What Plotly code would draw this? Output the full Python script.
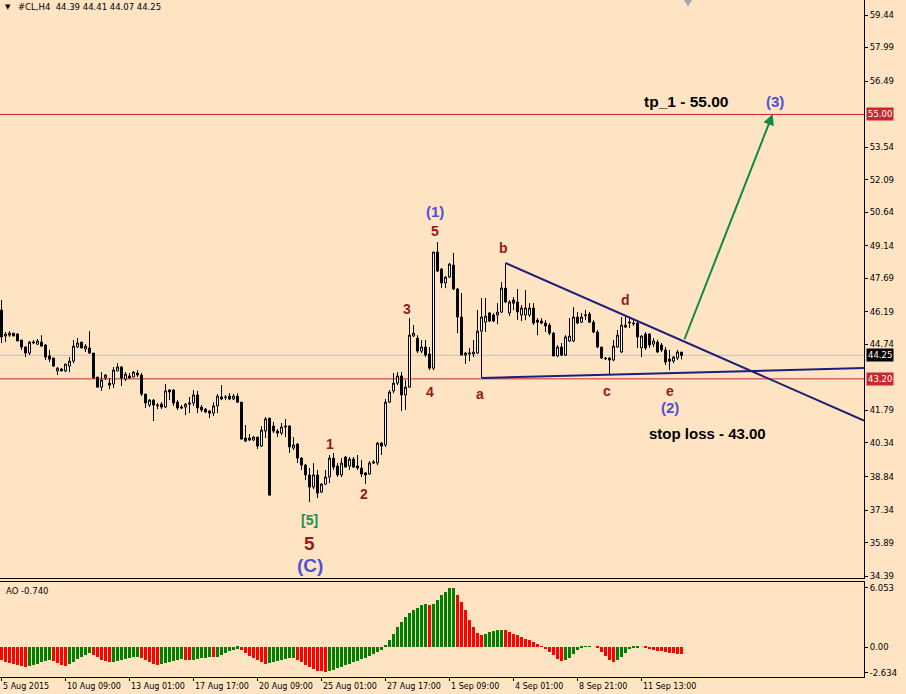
import plotly.graph_objects as go

# ---------------- data ----------------
bar_index = list(range(171))

opens = [46.27, 45.11, 45.15, 45.24, 45.20, 44.93, 44.62, 44.35, 44.80, 44.75,
         44.84, 44.71, 44.22, 44.13, 43.55, 43.64, 43.55, 43.77, 43.99, 44.62,
         44.84, 44.53, 44.58, 44.35, 43.28, 42.83, 43.24, 43.01, 42.97, 43.55,
         43.73, 43.19, 43.33, 43.28, 43.46, 43.37, 42.52, 42.03, 42.25, 41.99,
         42.07, 41.94, 42.70, 42.70, 42.16, 41.94, 41.94, 42.07, 42.12, 42.48,
         41.94, 41.85, 41.76, 41.67, 41.99, 42.39, 42.36, 42.43, 42.30, 42.43,
         42.16, 40.56, 40.56, 40.47, 40.60, 40.20, 40.87, 41.45, 41.09, 40.87,
         40.78, 41.05, 41.09, 40.11, 40.29, 39.66, 39.35, 38.91, 38.37, 38.91,
         38.15, 38.50, 38.82, 39.66, 39.31, 38.91, 39.71, 39.31, 39.62, 39.31,
         39.22, 39.00, 38.95, 39.44, 39.44, 40.33, 40.25, 42.16, 42.66, 43.01,
         43.33, 42.48, 42.83, 45.11, 45.02, 44.44, 44.62, 44.31, 43.68, 48.86,
         48.10, 47.48, 47.74, 48.28, 47.21, 45.96, 44.26, 44.31, 44.31, 44.35,
         45.33, 45.73, 46.14, 46.05, 46.05, 46.18, 47.25, 46.14, 46.72, 46.63,
         46.05, 46.05, 46.05, 46.36, 45.82, 45.78, 45.69, 45.60, 45.24, 44.22,
         44.62, 44.26, 44.89, 44.89, 45.96, 45.73, 46.02, 46.09, 45.73, 45.29,
         44.62, 44.13, 44.13, 44.04, 44.62, 44.40, 45.51, 45.69, 45.69, 45.69,
         44.58, 45.20, 45.20, 44.75, 44.84, 44.71, 44.49, 44.08, 43.99, 44.13,
         44.39]

highs = [46.72, 45.29, 45.33, 45.24, 45.24, 44.93, 44.66, 44.89, 44.93, 44.98,
         45.15, 44.75, 44.49, 44.13, 43.73, 43.68, 43.86, 44.17, 44.93, 45.02,
         44.84, 44.75, 45.33, 44.35, 43.28, 43.50, 43.41, 43.24, 43.73, 43.90,
         43.77, 43.50, 43.46, 43.55, 43.59, 43.46, 42.52, 42.30, 42.30, 42.12,
         42.16, 42.97, 42.74, 42.74, 42.25, 42.03, 42.12, 42.39, 42.70, 42.66,
         42.03, 41.90, 41.81, 42.16, 42.52, 42.92, 42.48, 42.56, 42.52, 42.56,
         42.16, 41.14, 40.74, 40.65, 40.60, 41.09, 41.50, 41.45, 41.27, 40.96,
         41.23, 41.41, 41.14, 40.60, 40.33, 39.71, 39.40, 39.22, 39.44, 39.13,
         38.55, 39.13, 39.80, 39.89, 39.44, 39.66, 39.75, 39.71, 39.71, 39.80,
         39.57, 39.04, 39.53, 39.57, 40.38, 40.38, 42.30, 42.70, 43.46, 43.50,
         43.50, 43.15, 45.91, 45.60, 45.15, 44.93, 44.93, 44.62, 48.86, 49.31,
         48.15, 47.79, 48.37, 48.82, 47.25, 47.03, 44.40, 44.58, 44.93, 46.27,
         46.81, 46.81, 46.18, 46.14, 46.58, 47.52, 48.37, 46.72, 46.85, 47.21,
         46.49, 47.16, 46.58, 46.58, 45.91, 45.91, 45.82, 45.69, 45.29, 44.71,
         44.80, 45.15, 45.91, 46.40, 46.18, 46.14, 46.27, 46.18, 45.82, 45.38,
         44.62, 44.17, 44.17, 44.93, 45.38, 45.96, 45.96, 45.91, 45.82, 45.82,
         45.15, 45.29, 45.24, 45.02, 44.93, 44.80, 44.62, 44.49, 44.22, 44.49,
         44.41]

lows = [44.80, 44.84, 45.07, 45.11, 44.89, 44.49, 44.17, 44.26, 44.75, 44.71,
        44.66, 44.04, 43.95, 43.73, 43.37, 43.55, 43.50, 43.50, 43.90, 44.58,
        44.58, 44.40, 44.31, 43.24, 42.83, 42.66, 43.15, 42.74, 42.79, 43.55,
        42.88, 43.10, 43.19, 43.28, 43.28, 42.43, 41.90, 41.94, 41.32, 41.85,
        41.85, 41.90, 42.25, 41.99, 41.81, 41.85, 41.58, 41.67, 41.99, 41.67,
        41.72, 41.67, 41.45, 41.54, 41.67, 42.25, 42.25, 42.25, 42.25, 42.12,
        40.51, 40.38, 40.42, 40.42, 40.07, 40.16, 40.56, 38.01, 40.78, 40.60,
        40.69, 40.60, 39.89, 40.02, 39.44, 39.13, 38.68, 37.70, 38.28, 37.88,
        38.10, 38.46, 38.55, 39.13, 38.82, 38.82, 39.26, 39.13, 39.22, 39.13,
        38.82, 38.50, 38.91, 39.40, 39.35, 39.80, 40.16, 42.12, 42.56, 42.92,
        41.76, 41.81, 42.79, 45.07, 44.35, 44.35, 44.17, 43.59, 43.59, 47.97,
        47.25, 47.25, 47.70, 47.16, 45.24, 44.26, 43.86, 43.99, 44.17, 44.31,
        43.24, 45.29, 45.73, 45.73, 45.64, 46.14, 46.58, 46.00, 46.27, 45.82,
        45.78, 45.82, 45.96, 45.60, 45.15, 45.64, 45.29, 45.15, 44.22, 44.17,
        44.22, 44.22, 44.84, 44.84, 45.64, 45.69, 45.82, 45.69, 45.24, 44.58,
        44.08, 44.04, 43.37, 43.99, 44.58, 44.35, 45.47, 45.47, 45.56, 44.58,
        44.17, 44.49, 44.58, 44.62, 44.35, 44.40, 43.82, 43.59, 43.90, 44.04,
        44.07]

closes = [45.07, 45.20, 45.24, 45.11, 44.89, 44.62, 44.35, 44.84, 44.84, 44.89,
          44.66, 44.17, 44.08, 43.77, 43.68, 43.55, 43.86, 43.99, 44.66, 44.80,
          44.58, 44.66, 44.35, 43.24, 42.83, 43.15, 43.37, 42.92, 43.59, 43.73,
          43.24, 43.41, 43.24, 43.50, 43.37, 42.52, 42.12, 42.25, 42.03, 42.03,
          41.94, 42.66, 42.61, 42.12, 41.90, 41.90, 42.07, 42.12, 42.48, 41.90,
          41.81, 41.72, 41.67, 41.99, 42.43, 42.30, 42.39, 42.30, 42.43, 42.16,
          40.51, 40.42, 40.47, 40.60, 40.20, 40.91, 41.41, 38.01, 40.87, 40.78,
          41.05, 41.09, 40.16, 40.25, 39.66, 39.35, 38.91, 38.37, 38.91, 38.10,
          38.50, 38.82, 39.66, 39.26, 38.91, 39.44, 39.26, 39.62, 39.26, 39.22,
          38.95, 38.91, 39.44, 39.49, 40.33, 40.20, 42.16, 42.61, 43.01, 43.33,
          42.48, 42.83, 45.15, 45.24, 44.44, 44.62, 44.26, 43.68, 48.86, 48.01,
          47.48, 47.74, 48.32, 47.21, 45.96, 44.26, 44.35, 44.35, 44.40, 45.33,
          45.96, 46.00, 45.78, 45.78, 46.18, 47.25, 46.63, 46.63, 46.58, 46.18,
          46.36, 46.36, 46.36, 45.69, 45.73, 45.69, 45.56, 45.24, 44.22, 44.62,
          44.26, 45.07, 45.11, 45.96, 45.69, 45.96, 46.05, 45.73, 45.29, 44.62,
          44.13, 44.10, 44.04, 44.66, 45.15, 45.60, 45.60, 45.73, 45.66, 45.07,
          45.11, 44.58, 44.71, 44.89, 44.40, 44.49, 43.95, 43.99, 44.17, 44.40,
          44.25]

ao_values = ([-1.35, -1.5, -1.65, -1.78, -1.88, -1.95, -2.0]
             + [-1.95, -1.85, -1.7, -1.55, -1.4, -1.3]
             + [-1.45, -1.65, -1.85, -1.95]
             + [-1.75, -1.5, -1.25, -1.0, -0.8, -0.65]
             + [-0.8, -1.05, -1.3, -1.45, -1.55]
             + [-1.5, -1.4, -1.3, -1.2, -1.1, -1.05, -1.0]
             + [-1.15, -1.35, -1.55, -1.7, -1.8]
             + [-1.7, -1.6, -1.5, -1.4, -1.3, -1.25]
             + [-1.3, -1.35]
             + [-1.3, -1.2, -1.15, -1.1, -1.0]
             + [-1.05]
             + [-1.0, -0.85, -0.65, -0.45, -0.3, -0.2]
             + [-0.35, -0.6, -0.9, -1.15, -1.35, -1.55, -1.7]
             + [-1.6, -1.5, -1.4, -1.3, -1.2, -1.15, -1.1]
             + [-1.3, -1.55, -1.8, -2.05, -2.25, -2.4, -2.5, -2.6]
             + [-2.45, -2.3, -2.15, -2.0, -1.85, -1.7, -1.55, -1.4, -1.25, -1.1, -0.9, -0.7, -0.5, -0.27]
             + [0.15, 0.7, 1.3, 2.0, 2.6, 3.1, 3.5, 3.8, 4.0, 4.25, 4.35, 4.25, 4.4, 4.8, 5.3, 5.65, 6.0, 6.053]
             + [5.3, 4.6, 3.75, 2.8, 2.05, 1.45, 1.2]
             + [1.35, 1.55, 1.6, 1.75, 1.77]
             + [1.7, 1.55, 1.35, 1.2, 1.0, 0.85, 0.7, 0.5, 0.3, 0.02, -0.25, -0.5, -0.85, -1.2, -1.4]
             + [-1.35, -1.1, -0.7, -0.35, -0.15, 0.03, 0.1]
             + [0.0, -0.15, -0.5, -0.95, -1.3, -1.5]
             + [-1.35, -1.0, -0.6, -0.25, -0.05]
             + [-0.02, 0.0]
             + [-0.12, -0.22, -0.3, -0.38, -0.45, -0.52, -0.58, -0.64, -0.7, -0.74])

price_ticks = [59.44, 57.99, 56.49, 53.54, 52.09, 50.64, 49.14, 47.69, 46.19,
               44.74, 41.79, 40.34, 38.84, 37.34, 35.89, 34.39]
ao_ticks = [6.053, 0.0, -2.634]
time_tick_bars = [0, 16, 32, 48, 64, 80, 96, 112, 128, 144, 160]
time_tick_labels = ["5 Aug 2015", "10 Aug 09:00", "13 Aug 01:00", "17 Aug 17:00",
                    "20 Aug 09:00", "25 Aug 01:00", "27 Aug 17:00", "1 Sep 09:00",
                    "4 Sep 01:00", "8 Sep 21:00", "11 Sep 13:00"]

tp_level = 55.00
stop_line_level = 43.20
bid_level = closes[-1]

# triangle / target points (bar index, price)
upper_line = [(126, 48.37), (215.6, 41.34)]
lower_line = [(120.1, 43.24), (215.6, 43.68)]
target_arrow = [(170.6, 44.90), (192.8, 55.02)]

# ---------------- styling ----------------
BG = "#FFE4C4"
MAROON = "#981818"
BLUE = "#5050d6"
SEAGREEN = "#238c52"
NAVY = "#1e1e78"
RED = "#c8282d"
SMALL = "DejaVu Sans"
BOLD = "Liberation Sans, Arial, sans-serif"

fig = go.Figure()

fig.add_trace(go.Candlestick(
    x=bar_index, open=opens, high=highs, low=lows, close=closes,
    increasing=dict(line=dict(color="black", width=1), fillcolor="white"),
    decreasing=dict(line=dict(color="black", width=1), fillcolor="black"),
    whiskerwidth=0, xaxis="x", yaxis="y", showlegend=False, hoverinfo="skip"))

ao_colors = []
for i, v in enumerate(ao_values):
    prev = ao_values[i - 1] if i > 0 else None
    ao_colors.append("#008000" if (prev is not None and v > prev) else "#ff0000")

fig.add_trace(go.Bar(x=bar_index, y=ao_values, marker=dict(color=ao_colors, line=dict(width=0)),
                     width=0.72, xaxis="x2", yaxis="y2", showlegend=False, hoverinfo="skip"))

XR = [-0.375, 215.625]
fig.update_layout(
    width=906, height=694,
    margin=dict(l=0, r=42, t=0, b=17),
    paper_bgcolor=BG, plot_bgcolor=BG,
    bargap=0,
    xaxis=dict(domain=[0, 1], range=XR, anchor="y", showticklabels=False, showgrid=False,
               zeroline=False, showline=True, linecolor="black", linewidth=1,
               rangeslider=dict(visible=False), fixedrange=True),
    yaxis=dict(domain=[0.1462, 1], range=[34.31, 60.11], side="right", anchor="x",
               tickvals=price_ticks, ticktext=[f"{v:.2f}" for v in price_ticks],
               ticks="outside", ticklen=3, tickcolor="black", showgrid=False, zeroline=False,
               showline=True, linecolor="black", linewidth=1,
               tickfont=dict(family=SMALL, size=8.5, color="black")),
    xaxis2=dict(domain=[0, 1], range=XR, anchor="y2", matches="x", showgrid=False, zeroline=False,
                showline=True, mirror=True, linecolor="black", linewidth=1,
                tickmode="array", tickvals=time_tick_bars, ticktext=[""] * len(time_tick_bars),
                ticks="outside", ticklen=3, tickcolor="black", showticklabels=False),
    yaxis2=dict(domain=[0, 0.1403], range=[-3.06, 6.63], side="right", anchor="x2",
                tickvals=ao_ticks, ticktext=[f"{v:.3f}" if v != 0 else "0.00" for v in ao_ticks],
                ticks="outside", ticklen=3, tickcolor="black", showgrid=False, zeroline=False,
                showline=True, mirror=True, linecolor="black", linewidth=1,
                tickfont=dict(family=SMALL, size=8.5, color="black")),
)

shapes = []
for lvl, col in [(tp_level, RED), (stop_line_level, RED), (bid_level, "#c0c0c0")]:
    shapes.append(dict(type="line", xref="paper", x0=0, x1=1, yref="y", y0=lvl, y1=lvl,
                       line=dict(color=col, width=1), layer="below"))
for pts in (upper_line, lower_line):
    shapes.append(dict(type="line", xref="x", yref="y", x0=pts[0][0], y0=pts[0][1],
                       x1=pts[1][0], y1=pts[1][1], line=dict(color=NAVY, width=2)))
# chart-shift marker
shapes.append(dict(type="path", xref="paper", yref="paper",
                   path="M 0.7917 1 L 0.8009 1 L 0.7963 0.9905 Z",
                   fillcolor="#a8a8a8", line=dict(width=0)))
fig.update_layout(shapes=shapes)

ann = []
# target arrow
ann.append(dict(x=target_arrow[1][0], y=target_arrow[1][1], ax=target_arrow[0][0], ay=target_arrow[0][1],
                xref="x", yref="y", axref="x", ayref="y", text="", showarrow=True,
                arrowhead=2, arrowsize=1.1, arrowwidth=2, arrowcolor="#0e8a46"))

wave_labels = [
    ("(1)", 108.4, 50.69, BLUE, 15), ("5", 108.4, 49.80, MAROON, 14),
    ("b", 125.6, 49.04, MAROON, 14), ("3", 101.4, 46.32, MAROON, 14),
    ("4", 107.1, 42.61, MAROON, 14), ("a", 119.6, 42.52, MAROON, 14),
    ("d", 155.9, 46.72, MAROON, 14), ("c", 151.4, 42.65, MAROON, 14),
    ("e", 167.1, 42.65, MAROON, 14), ("(2)", 167.1, 41.90, BLUE, 15),
    ("1", 82.1, 40.29, MAROON, 14), ("2", 90.6, 38.06, MAROON, 14),
    ("[5]", 77.1, 36.90, SEAGREEN, 14), ("5", 77.1, 35.84, MAROON, 19),
    ("(C)", 77.1, 34.89, BLUE, 19),
    ("tp_1 - 55.00", 171.1, 55.56, "black", 15.5), ("(3)", 193.4, 55.56, BLUE, 15),
    ("stop loss - 43.00", 176.4, 40.78, "black", 15),
]
for t, x, y, c, s in wave_labels:
    ann.append(dict(x=x, y=y, xref="x", yref="y", text=f"<b>{t}</b>", showarrow=False,
                    font=dict(family=BOLD, size=s, color=c), xanchor="center", yanchor="middle"))

# price boxes on the right axis
for lvl, bg in [(tp_level, RED), (stop_line_level, RED), (bid_level, "black")]:
    ann.append(dict(x=1.0, xref="paper", xanchor="left", xshift=2, y=lvl, yref="y",
                    text=f"{lvl:.2f}", showarrow=False, bgcolor=bg, borderpad=1,
                    font=dict(family=SMALL, size=8.5, color="white")))

# time labels
for b, t in zip(time_tick_bars, time_tick_labels):
    ann.append(dict(x=b, xref="x2", xanchor="left", xshift=-1, y=-0.0133, yref="paper",
                    yanchor="middle", text=t, showarrow=False,
                    font=dict(family=SMALL, size=8, color="black")))

# header texts
ann.append(dict(x=0.004, y=0.9895, xref="paper", yref="paper", xanchor="left", yanchor="middle",
                text="▼", showarrow=False, font=dict(family=SMALL, size=7, color="black")))
ann.append(dict(x=0.019, y=0.9895, xref="paper", yref="paper", xanchor="left", yanchor="middle",
                text="#CL,H4\u00a0\u00a0" + " ".join(f"{v:.2f}" for v in
                                                    (opens[-1], highs[-1], lows[-1], closes[-1])),
                showarrow=False, font=dict(family=SMALL, size=8.5, color="black")))
ann.append(dict(x=0.005, y=0.1403, xref="paper", yref="paper", xanchor="left", yanchor="top",
                yshift=-2, text=f"AO {ao_values[-1]:.3f}", showarrow=False,
                font=dict(family=SMALL, size=8.5, color="black")))

fig.update_layout(annotations=ann)
fig.write_html("out.html", config={"displayModeBar": False},
               post_script="document.body.style.margin='0';document.body.style.overflow='hidden';")
